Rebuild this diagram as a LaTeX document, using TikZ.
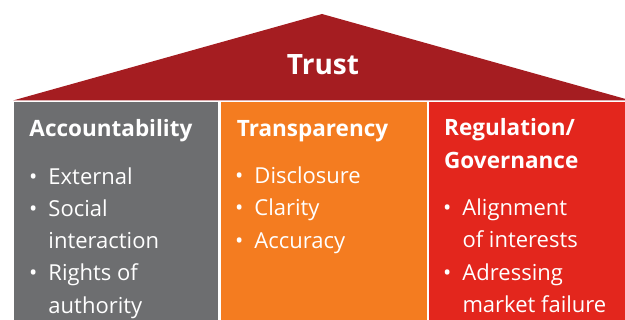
\documentclass[tikz,border=0pt]{standalone}
\usepackage{fontspec}
\setmainfont{Open Sans}
\usepackage{tikz}
\definecolor{roofred}{HTML}{A51D21}
\definecolor{pillgray}{HTML}{6D6E70}
\definecolor{pillorange}{HTML}{F47C20}
\definecolor{pillred}{HTML}{E3261D}
\tikzset{pillar/.style={anchor=north west,inner sep=0pt,outer sep=0pt,minimum height=240pt},
  head/.style={anchor=base west,text=white,inner sep=0pt,align=left,font=\fontsize{22.5}{32.3}\selectfont\bfseries},
  items/.style={anchor=base west,text=white,inner sep=0pt,align=left,font=\fontsize{22}{32.3}\selectfont}}
\newcommand{\bul}{\llap{\textbullet\hspace{11pt}}}

\begin{document}
\begin{tikzpicture}[x=1pt,y=-1pt]
\useasboundingbox (0,0) rectangle (625,320);
\clip (0,0) rectangle (625,320);
\fill[roofred](13,100.5)--(322,14)--(631,100.5)--cycle;
\node[font=\fontsize{28}{32}\selectfont\bfseries,text=white,anchor=base] (trust) at (323,74.3) {Trust};
\node[pillar,fill=pillgray,minimum width=204.3pt] (acc) at (14,102.5) {};
\node[pillar,fill=pillorange,minimum width=205.7pt] (tra) at (221,102.5) {};
\node[pillar,fill=pillred,minimum width=200pt] (reg) at (429.3,102.5) {};
% base of a multi-line node = its last line
\node[head] (acchead) at (29.3,136.7) {Accountability};
\node[head] (trahead) at (236.7,136.3) {Transparency};
\node[head] (reghead) at (444,168.3) {Regulation/\\Governance};
\node[items] (accitems) at (48.3,313.3) {\bul External\\\bul Social\\interaction\\\bul Rights of\\authority};
\node[items] (traitems) at (254.3,248.2) {\bul Disclosure\\\bul Clarity\\\bul Accuracy};
\node[items] (regitems) at (462.3,312.5) {\bul Alignment\\of interests\\\bul Adressing\\market failure};
\end{tikzpicture}
\end{document}
